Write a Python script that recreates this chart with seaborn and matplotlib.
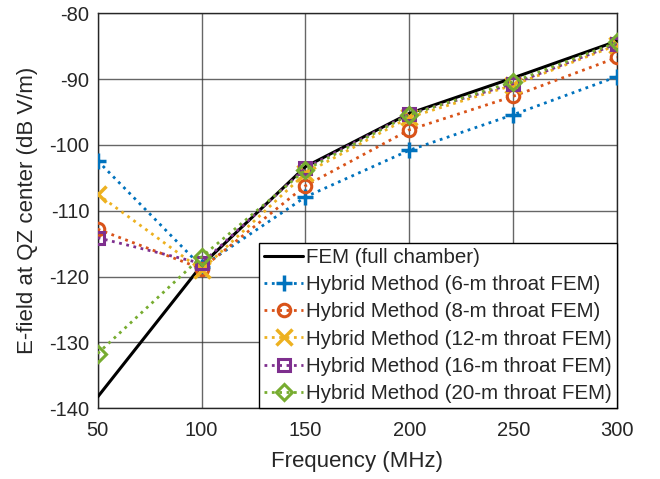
import numpy as np
import pandas as pd
import matplotlib
matplotlib.use('Agg')
import matplotlib.pyplot as plt
import seaborn as sns

# Datos
frecuencia = [50, 100, 150, 200, 250, 300]
fem_full = [-138.3, -118.3, -103.3, -95.2, -89.8, -84.2]
hyb_6m = [-102.4, -118.5, -107.9, -100.8, -95.4, -89.6]
hyb_8m = [-112.8, -118.8, -106.2, -97.7, -92.6, -86.7]
hyb_12m = [-107.5, -119.0, -104.3, -95.8, -90.9, -84.8]
hyb_16m = [-114.1, -118.0, -103.5, -95.3, -90.7, -84.6]
hyb_20m = [-131.7, -117.0, -103.8, -95.4, -90.4, -84.4]

etiquetas = ['FEM (full chamber)',
             'Hybrid Method (6-m throat FEM)',
             'Hybrid Method (8-m throat FEM)',
             'Hybrid Method (12-m throat FEM)',
             'Hybrid Method (16-m throat FEM)',
             'Hybrid Method (20-m throat FEM)']
series = [fem_full, hyb_6m, hyb_8m, hyb_12m, hyb_16m, hyb_20m]
colores = ['black', '#0072BD', '#D95319', '#EDB120', '#7E2F8E', '#77AC30']
marcadores = [None, '+', 'o', 'x', 's', 'D']

sns.set_style('white')
plt.rcParams['font.family'] = ['Liberation Sans', 'DejaVu Sans']
plt.rcParams['axes.unicode_minus'] = False

fig, ax = plt.subplots(figsize=(6.6, 4.79), dpi=100)
fig.subplots_adjust(left=0.148, right=0.935, top=0.972, bottom=0.148)

for nombre, valores, color, marc in zip(etiquetas, series, colores, marcadores):
    df = pd.DataFrame({'f': frecuencia, 'E': valores})
    if marc is None:
        sns.lineplot(data=df, x='f', y='E', ax=ax, color=color, lw=2.2,
                     label=nombre, zorder=3)
    elif marc in ('+', 'x'):
        sns.lineplot(data=df, x='f', y='E', ax=ax, color=color, lw=2,
                     ls=':', marker=marc, markersize=11, mew=2.5,
                     mec=color, label=nombre, zorder=4)
    else:
        sns.lineplot(data=df, x='f', y='E', ax=ax, color=color, lw=2,
                     ls=':', marker=marc, markersize=9 if marc != 'D' else 8,
                     mew=2.2, mfc='none', mec=color, label=nombre, zorder=4)

ax.set_xlim(50, 300)
ax.set_ylim(-140, -80)
ax.set_xticks(frecuencia)
ax.set_yticks(np.arange(-140, -79, 10))
ax.grid(True, color='#333333', lw=1, alpha=0.75)
ax.tick_params(direction='in', labelsize=14.5, length=5, color='#262626',
               labelcolor='#262626')
ax.tick_params(axis='x', pad=9)
ax.tick_params(axis='y', pad=6)
for s in ax.spines.values():
    s.set_color('#262626')
    s.set_linewidth(1)
ax.set_xlabel('Frequency (MHz)', fontsize=16, color='#262626', labelpad=8)
ax.set_ylabel('E-field at QZ center (dB V/m)', fontsize=16, color='#262626',
              labelpad=8)

leg = ax.legend(loc='lower right', borderaxespad=0, fancybox=False,
                edgecolor='black', framealpha=1, fontsize=14.8,
                handlelength=1.9, handletextpad=0.15, labelspacing=0.4,
                borderpad=0.25)
leg.get_frame().set_linewidth(1)

fig.savefig('out.png', dpi=100)
